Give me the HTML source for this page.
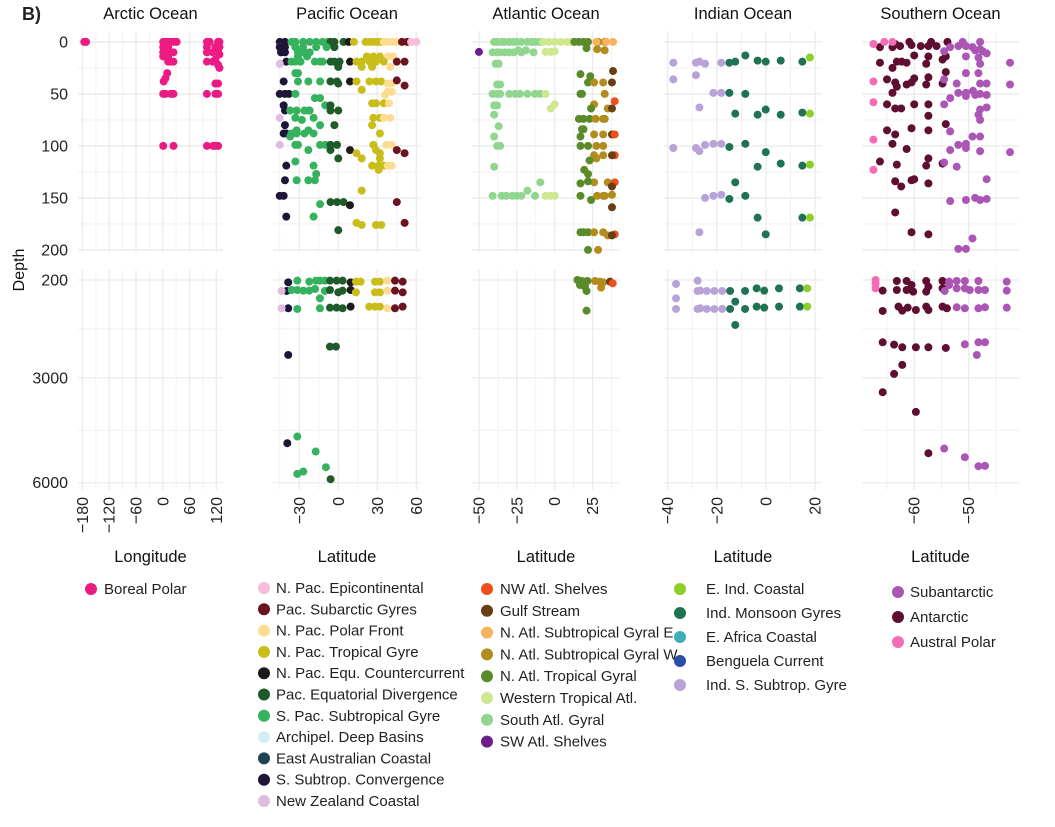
<!DOCTYPE html>
<html><head><meta charset="utf-8">
<style>
body{margin:0;background:#fff;}
svg{display:block;font-family:"Liberation Sans",Arial,sans-serif;}
</style></head>
<body>
<svg id="chart" width="1055" height="827" viewBox="0 0 1055 827" xmlns="http://www.w3.org/2000/svg">
<text x="22" y="20" font-size="18" font-weight="bold" fill="#222">B)</text>
<text transform="translate(24,270) rotate(-90)" text-anchor="middle" font-size="16" fill="#111">Depth</text>
</svg>
<script>
// ---------- data ----------
const panelTitles = ["Arctic Ocean","Pacific Ocean","Atlantic Ocean","Indian Ocean","Southern Ocean"];
const xAxisTitles = ["Longitude","Latitude","Latitude","Latitude","Latitude"];
const topDepthTicks = [0,50,100,150,200];
const bottomDepthTicks = [200,3000,6000];
const arcticTicks = [-180,-120,-60,0,60,120];
const pacificTicks = [-30,0,30,60];
const atlanticTicks = [-50,-25,0,25];
const indianTicks = [-40,-20,0,20];
const southernTicks = [-60,-50];

const arcticNames = ["Boreal Polar"];
const arcticColors = ["#ec1a83"];
const pacificNames = ["N. Pac. Epicontinental","Pac. Subarctic Gyres","N. Pac. Polar Front","N. Pac. Tropical Gyre","N. Pac. Equ. Countercurrent","Pac. Equatorial Divergence","S. Pac. Subtropical Gyre","Archipel. Deep Basins","East Australian Coastal","S. Subtrop. Convergence","New Zealand Coastal"];
const pacificColors = ["#f7bddb","#6b1420","#fddc92","#c9bd1a","#1c1c1c","#1f5a2a","#35b25e","#d2eef4","#1e4550","#1f1538","#e0bde0"];
const atlanticNames = ["NW Atl. Shelves","Gulf Stream","N. Atl. Subtropical Gyral E","N. Atl. Subtropical Gyral W","N. Atl. Tropical Gyral","Western Tropical Atl.","South Atl. Gyral","SW Atl. Shelves"];
const atlanticColors = ["#ee4f1c","#6a3e14","#f5b35e","#b28c1e","#5a8b2b","#cfe78f","#90d68f","#6b1f8b"];
const indianNames = ["E. Ind. Coastal","Ind. Monsoon Gyres","E. Africa Coastal","Benguela Current","Ind. S. Subtrop. Gyre"];
const indianColors = ["#8ccf29","#1f7353","#3bb0b8","#2a4ea8","#b8a3d9"];
const southernNames = ["Subantarctic","Antarctic","Austral Polar"];
const southernColors = ["#ab55b4","#5e0f31","#f56cb6"];

// [x (lon/lat), depth, group]
const arcticTop = [[-176,0,0],[-172,0,0],[1,0,0],[6,0,0],[12,0,0],[18,0,0],[24,0,0],[31,0,0],[1,5,0],[12,5,0],[1,10,0],[18,10,0],[24,10,0],[1,14,0],[12,14,0],[12,19,0],[18,19,0],[24,19,0],[10,30,0],[6,35,0],[2,38,0],[1,50,0],[6,50,0],[18,50,0],[24,50,0],[1,100,0],[24,100,0],
[99,0,0],[105,0,0],[124,0,0],[127,0,0],[99,5,0],[118,5,0],[127,5,0],[99,10,0],[112,10,0],[124,10,0],[127,12,0],[99,19,0],[112,19,0],[118,17,0],[124,22,0],[127,25,0],[118,40,0],[124,40,0],[99,50,0],[118,50,0],[124,50,0],[99,100,0],[113,100,0],[118,100,0],[124,100,0]];
const arcticBottom = [];

const pacificTop = [[-45,0,9],[-41,0,9],[-36,0,6],[-33,0,6],[-27,0,6],[-22,0,6],[-17,0,6],[-12,0,6],[-8,0,6],[-6,0,5],[-3,0,5],[4,0,5],[8,0,4],[12,0,3],[21,0,3],[24,0,3],[27,0,3],[30,0,3],[33,0,3],[35,0,2],[38,0,2],[42,0,2],[45,0,2],[49,0,1],[53,0,1],[56,0,0],[60,0,0],
[-45,5,10],[-45,5,9],[-41,5,9],[-33,5,6],[-27,5,6],[-17,5,6],[-9,5,6],[-3,5,5],
[-44,10,9],[-41,10,9],[-31,10,6],[-29,10,6],[-26,10,6],[-22,10,6],
[-31,14,6],[-24,14,6],[22,14,3],[27,14,3],[32,14,3],[38,14,2],[42,14,2],
[-40,19,9],[-36,19,6],[-33,19,6],[-29,19,6],[-18,19,6],[-14,19,6],[-12,19,6],[-6,19,5],[-3,19,5],[1,19,5],[9,19,4],[14,19,3],[18,19,3],[24,19,3],[29,19,3],[35,19,3],[45,19,1],[51,19,1],[-45,21,10],
[0,24,5],[18,24,3],[26,24,3],[40,24,2],[-33,30,6],[-31,30,6],
[-42,38,9],[-31,38,6],[-23,38,6],[-14,38,6],[-6,38,6],[-6,38,5],[-1,38,5],[0,40,5],[9,38,4],[14,38,3],[18,46,3],[24,38,3],[29,38,3],[33,38,3],[38,40,2],[41,40,2],[45,37,1],[51,42,1],
[-45,50,9],[-41,50,9],[-38,50,9],[-33,50,6],[36,51,2],[-18,54,6],[-14,54,6],[38,48,2],[41,48,2],
[26,59,3],[29,59,3],[35,59,3],[39,59,2],[-42,61,9],[-10,61,6],[-6,61,5],
[-41,66,9],[-37,66,6],[-32,66,6],[-26,66,6],[-23,66,6],[-22,66,6],[-6,66,5],[0,66,5],
[-45,73,10],[-33,73,6],[-19,73,6],[27,73,3],[32,73,3],[35,73,2],[40,73,2],[-28,75,6],
[-41,80,9],[-14,80,6],[-3,80,5],[26,80,3],[-32,85,6],[-23,85,6],
[-42,88,9],[-40,88,9],[-36,88,6],[-32,88,6],[-26,88,6],[-19,88,6],[32,88,3],[-37,91,6],
[-45,99,10],[-33,99,6],[-31,99,6],[27,99,3],[37,99,2],[41,99,2],[-14,99,6],[-10,99,6],[-6,99,5],[-1,99,5],
[-23,104,6],[-6,104,5],[9,104,4],[29,104,3],[45,104,1],[14,107,3],[32,107,3],[51,107,1],
[0,112,5],[18,112,3],[32,112,3],[-33,115,6],
[-40,119,9],[-19,119,6],[26,119,3],[31,119,3],[35,119,3],[38,119,2],[41,119,2],[31,123,3],[-17,127,6],
[-41,133,9],[-32,133,6],[-23,133,6],[-18,133,6],[18,143,3],[-45,148,9],[-42,148,9],
[-6,154,5],[-1,154,5],[4,154,5],[-14,156,6],[45,154,1],[9,157,4],
[-40,168,9],[-19,168,6],[14,174,3],[18,176,3],[29,176,3],[33,176,3],[51,174,1],[0,181,5]];
const pacificBottom = [[-38.5,267,9],[-39.7,514,9],[-38.5,1010,9],[-38.5,2344,9],[-39.2,4870,9],
[-43.6,514,10],[-43.6,1010,10],
[-31.5,219,6],[-22.3,248,6],[-17.2,219,6],[-14.1,219,6],[-10.3,219,6],[-35.9,486,6],[-31.5,486,6],[-26.9,505,6],[-22.3,505,6],[-17.9,457,6],[-14.1,724,6],[-10.3,514,6],[-31.5,1029,6],[-14.1,1010,6],[-31.5,4679,6],[-17.4,5108,6],[-9.5,5556,6],[-31.5,5747,6],[-26.9,5680,6],
[-6.4,219,5],[-1.3,219,5],[3.3,219,5],[-6.4,486,5],[0,553,5],[3.3,505,5],[-6.4,991,5],[-1.3,991,5],[3.3,1010,5],[-6.4,2106,5],[-1.8,2106,5],[-5.9,5899,5],
[9.5,267,4],[9.5,486,4],[9.5,962,4],
[13.6,248,3],[17.2,248,3],[28.2,248,3],[32,248,3],[13.6,553,3],[28.2,553,3],[32,553,3],[23.8,962,3],[28.2,962,3],[32,962,3],
[37.7,219,2],[37.7,505,2],[37.7,1010,2],
[43.6,219,1],[49.5,248,1],[43.6,505,1],[49.5,553,1],[43.6,1010,1],[49.5,962,1]];

const atlanticTop = [[-40,0,6],[-38,0,6],[-35,0,6],[-33,0,6],[-30,0,6],[-27,0,6],[-25,0,6],[-22,0,6],[-18,0,6],[-15,0,6],[-13,0,6],[-10,0,6],
[-7.7,0,5],[-4,0,5],[0,0,5],[4,0,5],[8,0,5],[11,0,5],[13,0,4],[16,0,4],[19,0,4],[22,0,4],[28.6,0,3],[33,0,3],[27.5,0,2],[34,0,2],[38.5,0,2],
[-50,9.6,7],[-41,10,6],[-38,10,6],[-36,10,6],[-33,10,6],[-30,10,6],[-27,10,6],[-24,8,6],[-22,10,6],[-19,8,6],[-14,10,6],[-6,9.6,5],[-2.6,9.6,5],[0,9,5],[21,6,4],[28,7,3],[33,8,3],
[-39,21,6],[-37,21,6],[38.5,28,1],[17,31,4],[23.5,33,4],[22,39,4],[26,39,3],[32,39,3],[37.8,39,1],[-38,41,6],[-36,41,6],
[-41,50,6],[-38,50,6],[-36,50,6],[-30,50,6],[-26,50,6],[-23,50,6],[-18,50,6],[-13,50,6],[-9.5,50,6],[-6,50,5],[17,50,4],[18,50,4],[33,50,3],
[39.6,57,0],[0,60,5],[26,60,3],[-40,61,6],[-38,61,6],[-2.6,64,5],[24,64,4],[35,64,3],[37.8,64,1],[-40,70,6],
[16,74,4],[19,74,4],[23,74,4],[27,74,3],[32,74,3],[33,74,3],[-37,81,6],[18,84,4],[19,84,4],
[37.8,89,1],[39.6,89,0],[26,89,3],[32,89,3],[-40,91,6],[17,91,4],
[17,100,4],[22,100,4],[27.5,100,3],[32,100,3],[-38,100,6],[-36,100,6],
[39.6,109,0],[37.8,109,1],[26,109,3],[32,109,3],[27.5,112,3],[23,114,4],[-40,120,6],[19.5,123,4],[22,127,4],
[-9.5,135,6],[39.6,135,0],[26,135,3],[35,135,3],[37.8,139,1],[17,136,4],[22,134,4],[-18,143,6],
[-41,148,6],[-35,148,6],[-32,148,6],[-28,148,6],[-25,148,6],[-22,148,6],[-13,148,6],[-6,148,5],[-3,148,5],[0,148,5],[17,148,4],[24,152,4],[28,148,3],[32,148,3],[33,148,3],[37.8,147,3],
[37.8,159,1],[17,183,4],[19,183,4],[22,183,4],[26,183,3],[32,183,3],[35,186,3],[39.6,185,0],[37.8,186,1],[22,200,4],[28.6,200,3]];
const atlanticBottom = [[15,200,4],[17.8,229,4],[20,248,4],[21.6,229,4],[16.7,343,4],[20,391,4],[21,514,4],[21,1077,4],[26.6,229,3],[29.9,248,3],[30.6,419,3],[32,267,3],[36.5,248,1],[38.3,295,0]];

const indianTop = [[-37.7,20,4],[-28.5,20,4],[-27.1,19,4],[-24.8,21,4],[-18.2,20,4],[-37.7,36,4],[-28.5,32,4],[-21.4,49,4],[-18.2,49,4],[-27.1,63,4],
[-37.7,102,4],[-28.5,102,4],[-27.1,105,4],[-24.8,99,4],[-21.4,98,4],[-18.2,98,4],[-24.8,150,4],[-21.4,148,4],[-18.2,147,4],[-27.1,183,4],
[-14.9,20,1],[-12.5,19,1],[-8.4,13,1],[-3.4,18,1],[-0.1,19,1],[6,18,1],[14.8,19,1],[-14.9,49,1],[-8.4,50,1],
[-12.5,69,1],[-3.4,70,1],[-0.1,65,1],[6,70,1],[14.8,68,1],[-14.9,101,1],[-8.4,98,1],[-0.1,106,1],[-3.4,120,1],[6,117,1],[14.8,119,1],
[-12.5,135,1],[-14.9,151,1],[-8.4,148,1],[-3.4,169,1],[14.8,169,1],[-0.1,185,1],
[17.9,15,0],[17.9,69,0],[17.9,118,0],[17.9,169,0]];
const indianBottom = [[-36.6,314,4],[-27.8,219,4],[-36.6,724,4],[-36.6,1029,4],[-27.8,514,4],[-26.8,505,4],[-24.1,514,4],[-21,514,4],[-17.8,514,4],[-27.8,1029,4],[-26.8,1010,4],[-24.1,1029,4],[-21,1029,4],[-17.8,1029,4],
[-14.6,514,1],[-8.5,514,1],[-3.8,438,1],[-0.7,505,1],[5.3,438,1],[13.8,438,1],[-12.5,819,1],[-14.6,1029,1],[-8.5,1029,1],[-3.8,962,1],[-0.7,991,1],[5.3,962,1],[13.8,962,1],[-12.5,1487,1],
[16.8,438,0],[16.8,962,0]];

const southernTop = [[-66.3,5,1],[-64,5,1],[-63.5,2,1],[-62.6,4,1],[-60.9,0,1],[-60.5,3,1],[-58.8,4,1],[-57.4,4,1],[-56.9,0,1],[-55.9,4,1],[-53.9,0,1],
[-66.3,20,1],[-63.2,19,1],[-62.3,19,1],[-61.4,20,1],[-60,13,1],[-57.8,21,1],[-57.4,14,1],[-54.8,17,1],[-54.2,14,1],
[-64,25,1],[-65,36,1],[-63.5,39,1],[-63.2,43,1],[-61.4,41,1],[-60.5,39,1],[-60,35,1],[-57.8,41,1],[-57.4,34,1],[-54.8,40,1],[-54.2,29,1],[-64,49,1],
[-65,60,1],[-63.5,64,1],[-62.4,64,1],[-60,60,1],[-57.4,60,1],[-57.4,71,1],[-54.2,79,1],[-65,85,1],[-63.5,89,1],[-60.5,83,1],[-57.4,85,1],[-64,98,1],[-61.4,103,1],
[-66.3,115,1],[-63.2,118,1],[-57.8,119,1],[-57.4,112,1],[-54.8,117,1],[-63.5,134,1],[-62.4,139,1],[-60.5,133,1],[-60,132,1],[-57.4,136,1],[-63.5,164,1],[-60.5,183,1],[-57.4,185,1],
[-54.5,9,0],[-53.4,5,0],[-51.9,4,0],[-50.5,4,0],[-49.3,5,0],[-48.8,8,0],[-47.9,7,0],[-47.4,9,0],[-46.7,11,0],[-51.1,0,0],[-47.9,0,0],[-50.5,14,0],[-48.2,15,0],[-47.9,21,0],[-42.4,20,0],
[-54.5,36,0],[-52.2,40,0],[-50.5,30,0],[-48.2,30,0],[-47.9,40,0],[-46.7,40,0],[-42.4,41,0],[-53.4,54,0],[-51.9,49,0],[-50.5,49,0],[-50.5,52,0],[-49.2,47,0],[-48.8,51,0],[-47.9,50,0],[-46.7,51,0],
[-54.5,60,0],[-47.9,65,0],[-46.7,63,0],[-48.2,70,0],[-47.9,75,0],[-53.4,86,0],[-49.3,91,0],[-47.9,91,0],[-53.4,104,0],[-51.9,99,0],[-50.5,98,0],[-50.5,102,0],[-47.9,105,0],[-42.4,106,0],
[-54.5,116,0],[-52.2,120,0],[-46.7,132,0],[-53.4,153,0],[-50.5,152,0],[-48.8,150,0],[-47.9,152,0],[-46.7,151,0],[-49.3,189,0],[-51.9,199,0],[-50.5,199,0],
[-67.5,2,2],[-65.5,0,2],[-64,0,2],[-67.5,38,2],[-67.5,58,2],[-67.5,94,2],[-67.5,123,2]];
const southernBottom = [[-67.1,200,2],[-67.1,300,2],[-67.1,438,2],
[-65.8,505,1],[-63.2,229,1],[-63.2,486,1],[-61.4,229,1],[-61.4,486,1],[-60.5,343,1],[-60.2,533,1],[-57.8,229,1],[-57.8,533,1],[-57.4,391,1],[-54.8,229,1],[-54.8,438,1],
[-65.8,1086,1],[-62.9,962,1],[-62.2,1077,1],[-61.2,991,1],[-59.7,1058,1],[-57.8,962,1],[-57.4,1058,1],[-54.8,962,1],[-54,1010,1],
[-65.8,1982,1],[-63.7,2049,1],[-62.2,2125,1],[-59.7,2125,1],[-57.4,2125,1],[-54.2,2144,1],[-62.2,2630,1],[-63.7,2887,1],[-65.8,3411,1],[-59.7,3974,1],[-57.4,5156,1],
[-53.6,248,0],[-52.2,229,0],[-50.7,229,0],[-50.7,438,0],[-48.2,229,0],[-43,248,0],[-43,505,0],[-54.4,514,0],[-53.6,343,0],[-52.2,438,0],[-49.8,486,0],[-48.2,486,0],[-47,486,0],
[-52.2,981,0],[-50.7,1010,0],[-48.2,1010,0],[-47,981,0],[-43,991,0],[-50.7,2039,0],[-48.2,1982,0],[-47,1982,0],[-48.5,2344,0],[-54.5,5022,0],[-50.7,5270,0],[-48.2,5528,0],[-47,5518,0]];

// ---------- layout ----------
const NS = "http://www.w3.org/2000/svg";
const svg = document.getElementById("chart");
const TOP = {y0:31, y1:252, d0:-10.5, d1:202};
const BOT = {y0:270, y1:490, d0:-86, d1:6208};
const panels = [
  {key:"arctic", x0:78, x1:223, v0:-190, v1:135, ticks:arcticTicks, minor:30, top:arcticTop, bot:arcticBottom, names:arcticNames, colors:arcticColors},
  {key:"pacific", x0:273, x1:421, v0:-50.2, v1:63.6, ticks:pacificTicks, minor:15, top:pacificTop, bot:pacificBottom, names:pacificNames, colors:pacificColors},
  {key:"atlantic", x0:472, x1:620, v0:-54.6, v1:43.1, ticks:atlanticTicks, minor:12.5, top:atlanticTop, bot:atlanticBottom, names:atlanticNames, colors:atlanticColors},
  {key:"indian", x0:664, x1:822, v0:-41.5, v1:22.8, ticks:indianTicks, minor:10, top:indianTop, bot:indianBottom, names:indianNames, colors:indianColors},
  {key:"southern", x0:862, x1:1019, v0:-69.6, v1:-40.75, ticks:southernTicks, minor:5, top:southernTop, bot:southernBottom, names:southernNames, colors:southernColors}
];
const legendPos = [
  {dx:91, tx:104, y0:589, dy:21.5},
  {dx:264, tx:276, y0:588, dy:21.3},
  {dx:487, tx:500, y0:589, dy:21.8},
  {dx:680, tx:706, y0:589, dy:24},
  {dx:898, tx:910, y0:592, dy:25}
];
function mk(tag, attrs, parent){
  const e = document.createElementNS(NS, tag);
  for (const k in attrs) e.setAttribute(k, attrs[k]);
  (parent||svg).appendChild(e);
  return e;
}
function fmt(v){ return v<0 ? "\u2212"+Math.abs(v) : String(v); }

// y axis tick labels
[[TOP,topDepthTicks],[BOT,bottomDepthTicks]].forEach(([R,ticks])=>{
  const ys = d => R.y0 + (d-R.d0)/(R.d1-R.d0)*(R.y1-R.y0);
  ticks.forEach(t=>{
    const tx = mk("text",{x:68,y:ys(t)+5.5,"text-anchor":"end","font-size":"16",fill:"#222"});
    tx.textContent = t;
    
    
  });
});

panels.forEach((p,pi)=>{
  const xs = v => p.x0 + (v-p.v0)/(p.v1-p.v0)*(p.x1-p.x0);
  const g = mk("g",{});
  
  
  const title = mk("text",{x:(p.x0+p.x1)/2,y:19,"text-anchor":"middle","font-size":"16.5",fill:"#111"},g);
  title.textContent = panelTitles[pi];
  
  
  [[TOP,p.top,[0,50,100,150,200],[25,75,125,175],"top"],[BOT,p.bot,[200,3000,6000],[1600,4500],"bottom"]].forEach(([R,pts,maj,mino,rn])=>{
    const ys = d => R.y0 + (d-R.d0)/(R.d1-R.d0)*(R.y1-R.y0);
    const grid = mk("g",{},g);
    
    
    mino.forEach(d=>mk("line",{x1:p.x0,x2:p.x1,y1:ys(d),y2:ys(d),stroke:"#efefef","stroke-width":0.8},grid));
    maj.forEach(d=>mk("line",{x1:p.x0,x2:p.x1,y1:ys(d),y2:ys(d),stroke:"#ebebeb","stroke-width":1.3},grid));
    // vertical
    const first = p.ticks[0]-p.minor*Math.ceil((p.ticks[0]-p.v0)/p.minor);
    for (let v=first; v<=p.v1+1e-9; v+=p.minor){
      if (v < p.v0) continue;
      const isMaj = p.ticks.some(t=>Math.abs(t-v)<1e-6);
      mk("line",{x1:xs(v),x2:xs(v),y1:R.y0,y2:R.y1,stroke:isMaj?"#ebebeb":"#efefef","stroke-width":isMaj?1.3:0.8},grid);
    }
    const pg = mk("g",{},g);
    
    
    pts.forEach(pt=>{
      const c = mk("circle",{cx:xs(pt[0]),cy:ys(pt[1]),r:4,fill:p.colors[pt[2]]},pg);
      
      
    });
  });
  // x tick labels
  p.ticks.forEach(t=>{
    const x = xs(t);
    const tl = mk("text",{transform:`translate(${x+5.5},497) rotate(-90)`,"text-anchor":"end","font-size":"16",fill:"#222"},g);
    tl.textContent = fmt(t);
    
    
  });
  const xt = mk("text",{x:(p.x0+p.x1)/2,y:562,"text-anchor":"middle","font-size":"16.5",fill:"#111"},g);
  xt.textContent = xAxisTitles[pi];
  
  
  // legend
  const L = legendPos[pi];
  const lg = mk("g",{},g);
  
  
  p.names.forEach((n,i)=>{
    const y = L.y0 + i*L.dy;
    const e = mk("g",{},lg);
    
    
    mk("circle",{cx:L.dx,cy:y,r:6,fill:p.colors[i]},e);
    const t = mk("text",{x:L.tx,y:y+5,"font-size":"15",fill:"#222"},e);
    t.textContent = n;
  });
});
</script>
</body></html>
